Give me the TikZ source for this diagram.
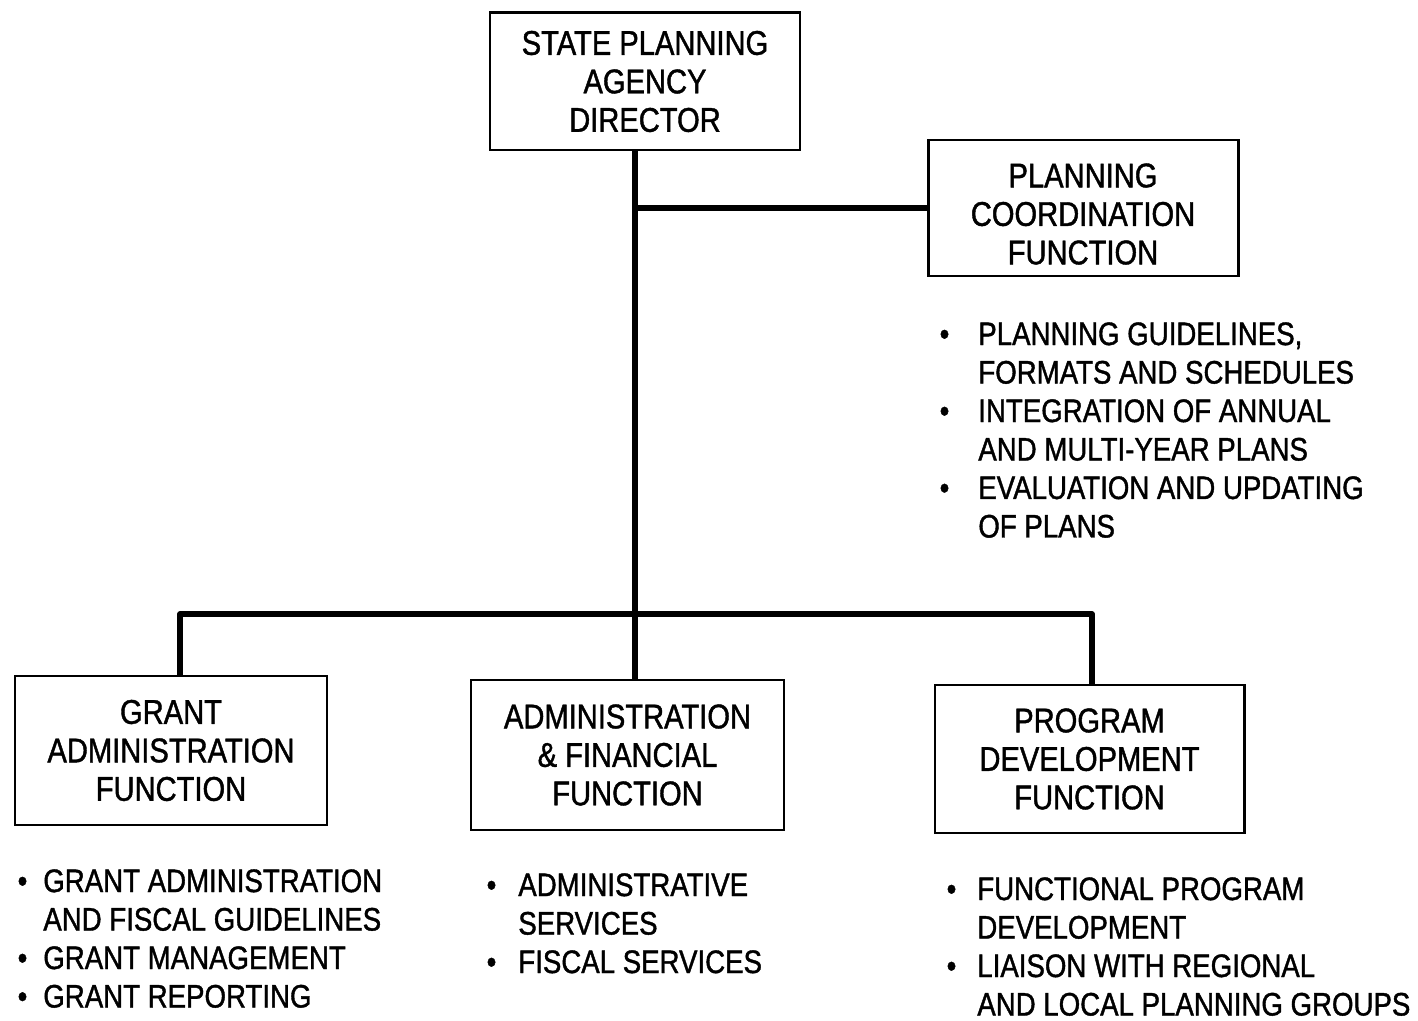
\documentclass[tikz,border=0pt]{standalone}
\usepackage{fontspec}
\setmainfont[FakeStretch=0.85, FakeBold=1.2]{Liberation Sans}
\newcommand\itm[1]{\llap{\textbullet\hspace{#1}}}
\begin{document}
\begin{tikzpicture}[
  box/.style={draw, line width=1.7pt, align=center, inner sep=0pt,
    font=\fontsize{19.5}{21.9}\selectfont},
  conn/.style={line width=3.2pt, line join=round, line cap=butt},
  list/.style={anchor=north west, align=left, inner sep=0pt,
    font=\fontsize{18.5}{21.9}\selectfont}
]
\path[fill=white, use as bounding box] (0,0) rectangle (28.36,-20.42);

% boxes
\node[box, minimum width=6.2cm, minimum height=2.74cm] (dir) at (12.9,-1.63)
  {STATE PLANNING\\AGENCY\\DIRECTOR};
\node[box, minimum width=6.2cm, minimum height=2.72cm] (plan) at (21.66,-4.16)
  {\rule{0pt}{0.72cm}PLANNING\\COORDINATION\\FUNCTION};
\node[box, minimum width=6.24cm, minimum height=2.98cm] (grant) at (3.42,-15.01)
  {GRANT\\ADMINISTRATION\\FUNCTION};
\node[box, minimum width=6.26cm, minimum height=3.0cm] (admin) at (12.55,-15.1)
  {ADMINISTRATION\\\& FINANCIAL\\FUNCTION};
\node[box, minimum width=6.18cm, minimum height=2.96cm] (prog) at (21.79,-15.18)
  {PROGRAM\\DEVELOPMENT\\FUNCTION};

% connector helpers
\coordinate (tx) at (12.7,0);
\coordinate (busL) at (3.6,-12.28);
\coordinate (busR) at (21.84,-12.28);

% connectors
\draw[conn] (dir.south -| tx) -- (admin.north -| tx);
\draw[conn] (plan.west) -- (plan.west -| tx);
\draw[conn] (grant.north -| busL) -- (busL) -- (busR) -- (prog.north -| busR);

% bullet lists
\node[list] (planlist) at (19.56,-6.44)
  {\itm{0.58cm}PLANNING GUIDELINES,\\
   FORMATS AND SCHEDULES\\
   \itm{0.58cm}INTEGRATION OF ANNUAL\\
   AND MULTI-YEAR PLANS\\
   \itm{0.58cm}EVALUATION AND UPDATING\\
   OF PLANS};
\node[list] (grantlist) at (0.86,-17.38)
  {\itm{0.32cm}GRANT ADMINISTRATION\\
   AND FISCAL GUIDELINES\\
   \itm{0.32cm}GRANT MANAGEMENT\\
   \itm{0.32cm}GRANT REPORTING};
\node[list] (adminlist) at (10.36,-17.46)
  {\itm{0.44cm}ADMINISTRATIVE\\
   SERVICES\\
   \itm{0.44cm}FISCAL SERVICES};
\node[list] (proglist) at (19.54,-17.54)
  {\itm{0.42cm}FUNCTIONAL PROGRAM\\
   DEVELOPMENT\\
   \itm{0.42cm}LIAISON WITH REGIONAL\\
   AND LOCAL PLANNING GROUPS};
\end{tikzpicture}
\end{document}
